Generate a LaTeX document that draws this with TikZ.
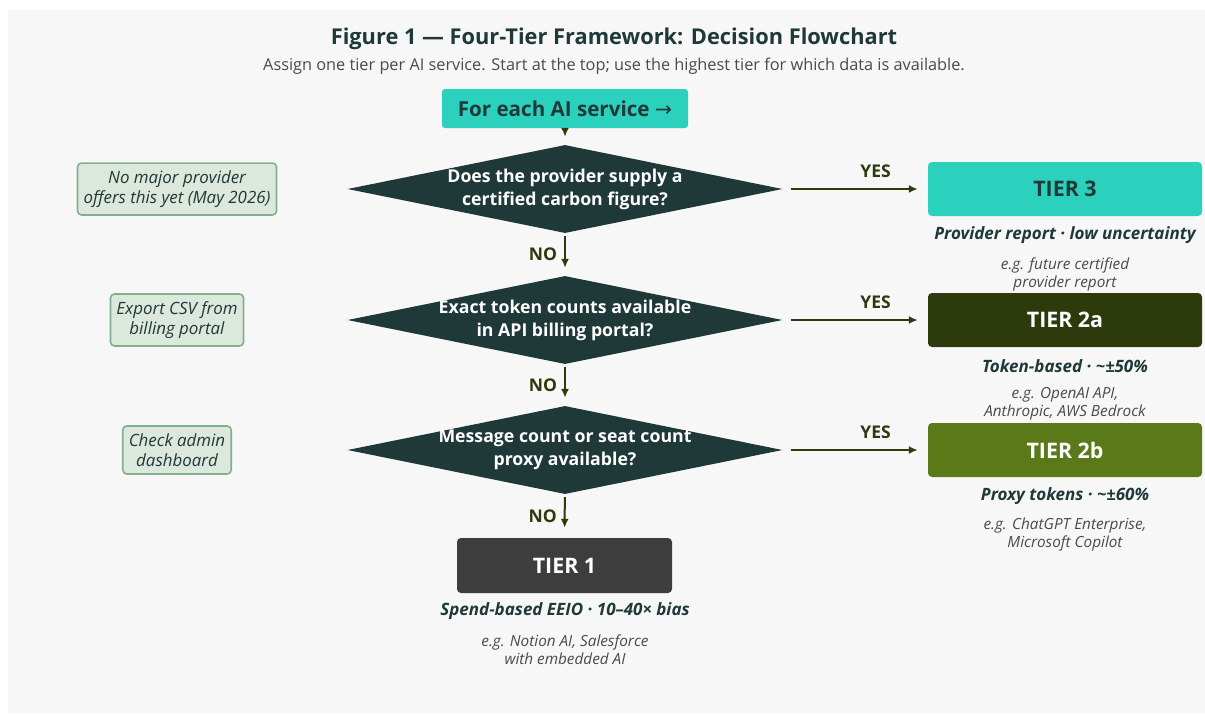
\documentclass[tikz,border=0pt]{standalone}
\usepackage{fontspec}
\setmainfont{Open Sans}
\newfontfamily\arrowfont{DejaVu Sans}
\usepackage{tikz}
\usetikzlibrary{positioning,shapes.geometric,arrows.meta}

\definecolor{pagebg}{HTML}{F7F7F7}
\definecolor{teal}{HTML}{2BD1BC}
\definecolor{darkteal}{HTML}{1F3838}
\definecolor{olive}{HTML}{2D3A0B}
\definecolor{tiertwoa}{HTML}{2C3A0C}
\definecolor{tiertwob}{HTML}{5A7A19}
\definecolor{tierone}{HTML}{3D3D3D}
\definecolor{notefill}{HTML}{DCE8DC}
\definecolor{noteline}{HTML}{82B08F}
\definecolor{greytext}{HTML}{4A4A4A}

\tikzset{
  decision/.style={diamond, fill=darkteal, inner sep=0pt, minimum width=435pt, minimum height=88pt},
  qtext/.style={text=white, align=center, font=\fontsize{17.7}{23}\selectfont\bfseries},
  tierbox/.style={rectangle, rounded corners=4pt, minimum width=274pt, minimum height=54pt,
    font=\fontsize{21.4}{25}\selectfont\bfseries},
  tierdesc/.style={inner sep=0pt, text=darkteal, font=\fontsize{17}{20}\selectfont\bfseries\itshape},
  example/.style={inner sep=0pt, text=greytext, align=center, font=\fontsize{15.3}{18}\selectfont\itshape},
  sidenote/.style={rectangle, rounded corners=4pt, fill=notefill, draw=noteline, line width=1.6pt,
    inner xsep=6pt, inner ysep=7.5pt, align=center, text=darkteal, font=\fontsize{16.9}{20}\selectfont\itshape},
  arr/.style={-{Latex[length=9pt,width=8pt]}, draw=olive, line width=2pt},
  branch/.style={inner sep=0pt, text=olive, font=\fontsize{17.5}{20}\selectfont\bfseries}
}

\begin{document}
\begin{tikzpicture}[x=1pt,y=-1pt]
\useasboundingbox (0,0) rectangle (1205,713);
\fill[pagebg] (8,10) rectangle (1205,713);

\node (title) [text=darkteal, font=\fontsize{21.8}{26}\selectfont\bfseries] at (614,39)
  {Figure 1 — Four-Tier Framework: Decision Flowchart};
\node (subtitle) [text=greytext, font=\fontsize{16.3}{19}\selectfont] at (614,66)
  {Assign one tier per AI service. Start at the top; use the highest tier for which data is available.};

\node (start) [rectangle, rounded corners=3pt, fill=teal, text=darkteal, minimum width=246pt, minimum height=39pt,
  font=\fontsize{20.6}{24}\selectfont\bfseries] at (565,108.5) {For each AI service {\arrowfont\mdseries →}};

\node (d1) [decision, label={[qtext]center:Does the provider supply a\\certified carbon figure?}] at (565,189) {};
\node (d2) [decision, label={[qtext]center:Exact token counts available\\in API billing portal?}] at (565,320) {};
\node (d3) [decision, label={[qtext]center:Message count or seat count\\proxy available?}] at (565,450) {};

\node (t3) [tierbox, fill=teal, text=darkteal] at (1065,189) {TIER 3};
\node (t2a) [tierbox, fill=tiertwoa, text=white] at (1065,320) {TIER 2a};
\node (t2b) [tierbox, fill=tiertwob, text=white] at (1065,450) {TIER 2b};
\node (t1) [tierbox, fill=tierone, text=white, minimum width=215pt, minimum height=55pt] at (564.5,565.5) {TIER 1};

\node (t3d) [tierdesc] at (1065,235) {Provider report · low uncertainty};
\node (t3e) [example] at (1065,274) {e.g. future certified\\provider report};
\node (t2ad) [tierdesc] at (1065,366) {Token-based · \textasciitilde±50\%};
\node (t2ae) [example] at (1065,403.5) {e.g. OpenAI API,\\Anthropic, AWS Bedrock};
\node (t2bd) [tierdesc] at (1065,496) {Proxy tokens · \textasciitilde±60\%};
\node (t2be) [example] at (1065,534.5) {e.g. ChatGPT Enterprise,\\Microsoft Copilot};
\node (t1d) [tierdesc] at (565,611) {Spend-based EEIO · 10–40× bias};
\node (t1e) [example] at (565,649.5) {e.g. Notion AI, Salesforce\\with embedded AI};

\node (n1) [sidenote] at (177,189) {No major provider\\offers this yet (May 2026)};
\node (n2) [sidenote] at (177,320) {Export CSV from\\billing portal};
\node (n3) [sidenote] at (177,450) {Check admin\\dashboard};

\draw[arr, shorten >=8pt] (start) -- (d1);
\draw[arr, shorten <=3pt, shorten >=8pt] (d1) -- node[branch, left=7pt] {NO} (d2);
\draw[arr, shorten <=3pt, shorten >=8pt] (d2) -- node[branch, left=7pt] {NO} (d3);
\draw[arr, shorten <=3pt, shorten >=10pt] (d3) -- node[branch, left=7pt] {NO} (t1);
\draw[arr, shorten <=8pt, shorten >=10pt] (d1) -- node[branch, pos=0.64, above=10pt] {YES} (t3);
\draw[arr, shorten <=8pt, shorten >=10pt] (d2) -- node[branch, pos=0.64, above=10pt] {YES} (t2a);
\draw[arr, shorten <=8pt, shorten >=10pt] (d3) -- node[branch, pos=0.64, above=10pt] {YES} (t2b);
\end{tikzpicture}
\end{document}
